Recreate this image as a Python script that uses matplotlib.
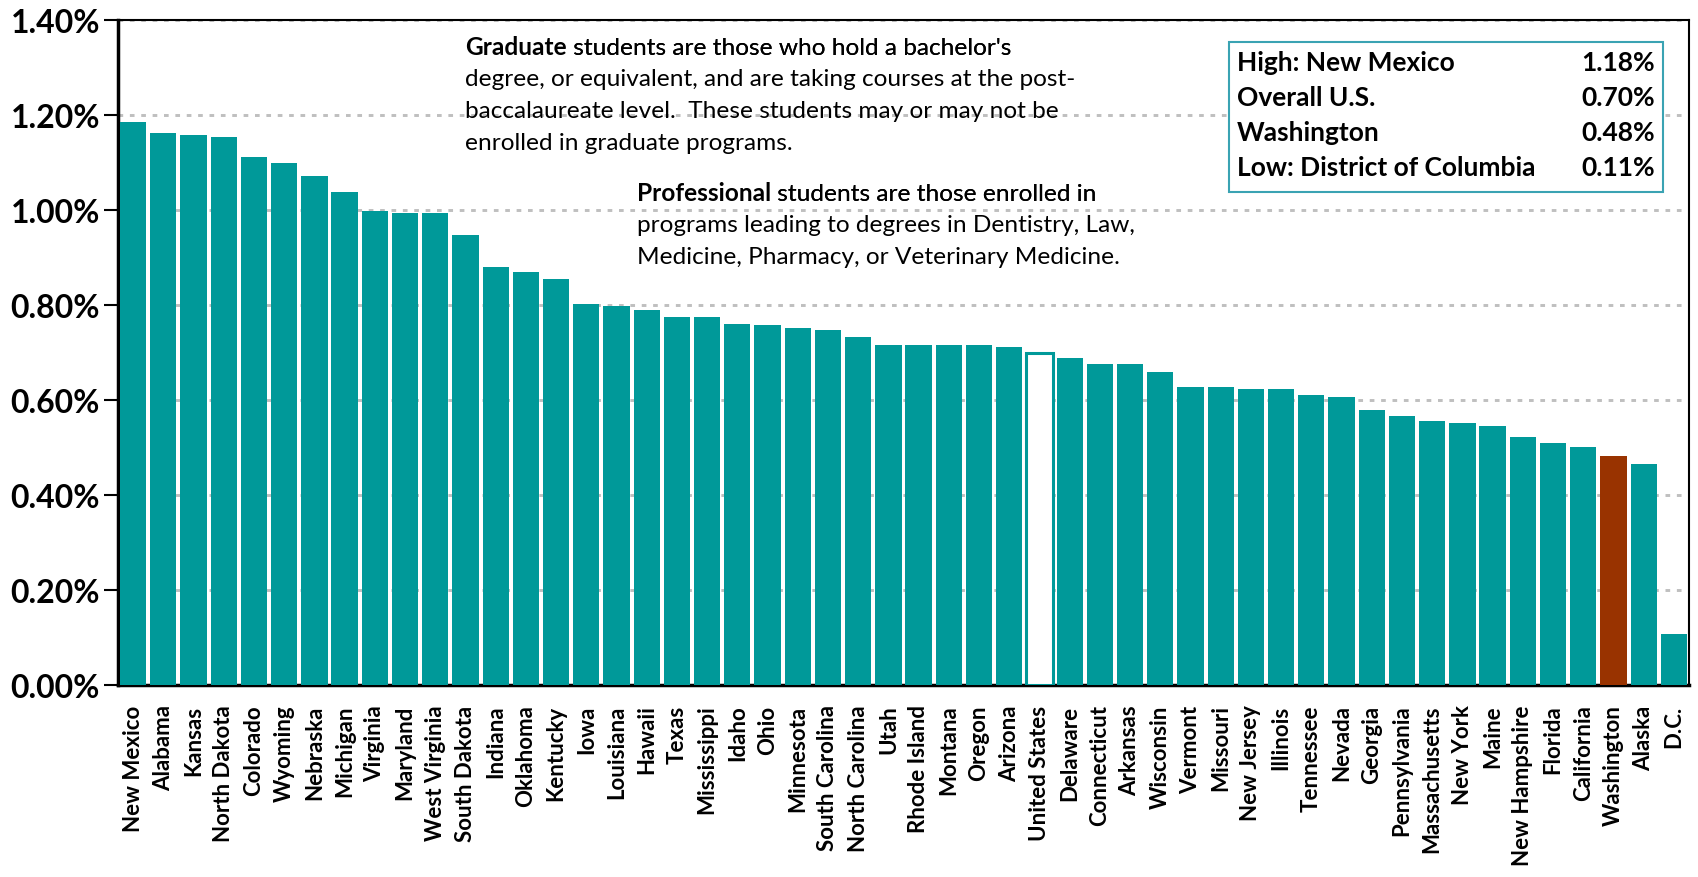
import matplotlib

matplotlib.use("Agg")
import matplotlib.pyplot as plt  # noqa: E402
from matplotlib.patches import Rectangle  # noqa: E402
from matplotlib.ticker import FuncFormatter  # noqa: E402

plt.rcParams["font.family"] = ["Lato", "DejaVu Sans"]

states = [
    "New Mexico", "Alabama", "Kansas", "North Dakota", "Colorado", "Wyoming",
    "Nebraska", "Michigan", "Virginia", "Maryland", "West Virginia",
    "South Dakota", "Indiana", "Oklahoma", "Kentucky", "Iowa", "Louisiana",
    "Hawaii", "Texas", "Mississippi", "Idaho", "Ohio", "Minnesota",
    "South Carolina", "North Carolina", "Utah", "Rhode Island", "Montana",
    "Oregon", "Arizona", "United States", "Delaware", "Connecticut",
    "Arkansas", "Wisconsin", "Vermont", "Missouri", "New Jersey", "Illinois",
    "Tennessee", "Nevada", "Georgia", "Pennsylvania", "Massachusetts",
    "New York", "Maine", "New Hampshire", "Florida", "California",
    "Washington", "Alaska", "D.C.",
]
# percent of population enrolled as graduate / professional students
shares = [
    1.185, 1.162, 1.157, 1.153, 1.112, 1.099, 1.072, 1.038, 0.998, 0.994,
    0.994, 0.947, 0.879, 0.870, 0.854, 0.802, 0.797, 0.790, 0.775, 0.775,
    0.761, 0.757, 0.752, 0.748, 0.733, 0.716, 0.716, 0.716, 0.716, 0.711,
    0.700, 0.689, 0.676, 0.676, 0.660, 0.627, 0.627, 0.624, 0.624, 0.611,
    0.606, 0.580, 0.567, 0.555, 0.551, 0.546, 0.523, 0.510, 0.501, 0.483,
    0.466, 0.107,
]
yticks = [0.0, 0.2, 0.4, 0.6, 0.8, 1.0, 1.2, 1.4]

summary_labels = ["High: New Mexico", "Overall U.S.", "Washington",
                  "Low: District of Columbia"]
summary_values = ["1.18%", "0.70%", "0.48%", "0.11%"]

graduate_lines = [
    "students are those who hold a bachelor's",
    "degree, or equivalent, and are taking courses at the post-",
    "baccalaureate level.  These students may or may not be",
    "enrolled in graduate programs.",
]
professional_lines = [
    "students are those enrolled in",
    "programs leading to degrees in Dentistry, Law,",
    "Medicine, Pharmacy, or Veterinary Medicine.",
]

teal = "#009999"
highlight = "#993300"
W, H = 1698, 878

fig = plt.figure(figsize=(W / 100, H / 100), dpi=100)
ax = fig.add_axes([118 / W, 1 - 686 / H, (1689 - 118) / W, (686 - 21) / H])

x = list(range(len(states)))
colors = []
edges = []
for name in states:
    if name == "United States":
        colors.append("white")
        edges.append(teal)
    elif name == "Washington":
        colors.append(highlight)
        edges.append(highlight)
    else:
        colors.append(teal)
        edges.append(teal)
bars = ax.bar(x, shares, width=0.87, color=colors, edgecolor=edges,
              linewidth=0, zorder=3)
us = states.index("United States")
bars[us].set_linewidth(2.2)

ax.set_xlim(-0.5, len(states) - 0.5)
ax.set_ylim(0, 1.4)
ax.set_yticks(yticks)
ax.yaxis.set_major_formatter(FuncFormatter(lambda v, _: f"{v:.2f}%"))
ax.set_xticks(x)
ax.set_xticklabels(states, rotation=90, fontsize=16, fontweight="bold")
ax.tick_params(axis="x", length=0, pad=14)
ax.tick_params(axis="y", direction="out", length=10, width=1.5,
               labelsize=23, pad=3)
for lab in ax.get_yticklabels():
    lab.set_fontweight("bold")

ax.yaxis.grid(True, linestyle=(0, (1.6, 2.3)), color="#BFBFBF", linewidth=2.1)
ax.set_axisbelow(True)
for side in ["left", "bottom"]:
    ax.spines[side].set_linewidth(2.5)
for side in ["top", "right"]:
    ax.spines[side].set_linewidth(1.5)


# explanatory notes
def note(left, top, bold_word, lines, pitch=31.5):
    first = fig.text(left / W, 1 - top / H, bold_word, fontsize=17.6,
                     fontweight="bold", va="baseline")
    fig.texts.append(ax.annotate(" " + lines[0], xy=(1, 0), xycoords=first,
                                 fontsize=17.6, va="bottom"))
    for i, line in enumerate(lines[1:], start=1):
        fig.text(left / W, 1 - (top + i * pitch) / H, line, fontsize=17.6,
                 va="baseline")


note(465, 55, "Graduate", graduate_lines)
note(637, 201, "Professional", professional_lines)

# summary box
fig.patches.append(Rectangle((1229 / W, 1 - 193 / H), (1663 - 1229) / W,
                             150 / H, transform=fig.transFigure,
                             facecolor="white", edgecolor="#3AA3B3",
                             linewidth=1.5, zorder=5))
for i, (lab, val) in enumerate(zip(summary_labels, summary_values)):
    y = 1 - (63 + i * 35) / H
    fig.text(1237 / W, y, lab, fontsize=19, fontweight="bold", va="center",
             zorder=6)
    fig.text(1655 / W, y, val, fontsize=19, fontweight="bold", va="center",
             ha="right", zorder=6)

fig.savefig("out.png", dpi=100)
